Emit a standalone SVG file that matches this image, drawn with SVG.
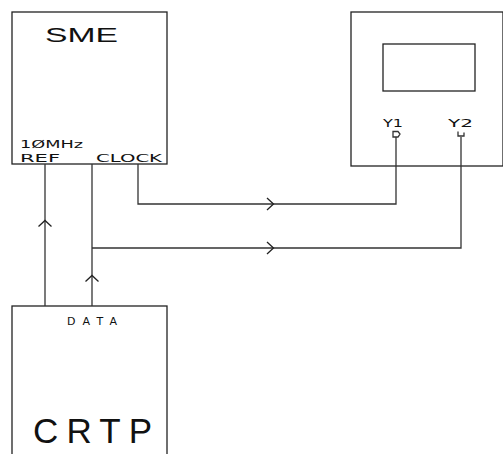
<svg xmlns="http://www.w3.org/2000/svg" width="503" height="454" viewBox="0 0 503 454">
<style>
.box{fill:#fff;stroke:#222;stroke-width:1.3}
.ln{fill:none;stroke:#333;stroke-width:1.3}
.arr{fill:none;stroke:#222;stroke-width:1.3}
.t{font-family:"Liberation Sans","DejaVu Sans",sans-serif;fill:#111}
.s{font-family:"DejaVu Sans","Liberation Sans",sans-serif;fill:#111;font-size:11px}
</style>
<rect width="503" height="454" fill="#fff"/>
<g id="sme">
<rect class="box" x="12" y="12" width="155" height="152"/>
<text class="t" x="45" y="42" font-size="21" textLength="73" lengthAdjust="spacingAndGlyphs">SME</text>
<text class="s" x="20" y="147.5" textLength="63" lengthAdjust="spacingAndGlyphs">1ØMHz</text>
<text class="s" x="20" y="161.5" textLength="40" lengthAdjust="spacingAndGlyphs">REF</text>
<text class="s" x="96" y="161.5" textLength="66" lengthAdjust="spacingAndGlyphs">CLOCK</text>
</g>
<g id="scope">
<rect class="box" x="351" y="12" width="152" height="154"/>
<rect class="box" x="383" y="44" width="92" height="47"/>
<text class="s" x="383" y="127" font-size="9" textLength="20" lengthAdjust="spacingAndGlyphs">Y1</text>
<text class="s" x="448" y="127" font-size="9" textLength="25" lengthAdjust="spacingAndGlyphs">Y2</text>
<path class="ln" d="M393,131.5 L398,131.5 L400,134 L398,137 L393,137 Z"/>
<path class="ln" d="M458,131.5 L458,136 L464,136 L464,132.5"/>
</g>
<g id="crtp">
<rect class="box" x="12" y="306" width="155" height="160"/>
<text class="s" x="67" y="324.5" font-size="10" textLength="50" lengthAdjust="spacing">DATA</text>
<text class="t" x="33" y="443" font-size="35" textLength="119" lengthAdjust="spacing">CRTP</text>
</g>
<g id="connectors">
<path class="ln" d="M45,306 L45,164"/>
<path class="ln" d="M92,306 L92,164"/>
<path class="ln" d="M92,248 L461,248 L461,137"/>
<path class="ln" d="M138,164 L138,204 L396,204 L396,137"/>
<path class="arr" d="M38.5,226.5 L45,220.5 L51.5,226.5"/>
<path class="arr" d="M85.5,281.5 L92,275.5 L98.5,281.5"/>
<path class="arr" d="M267,198 L273.5,204 L267,210"/>
<path class="arr" d="M267,242 L273.5,248 L267,254"/>
</g>
</svg>
